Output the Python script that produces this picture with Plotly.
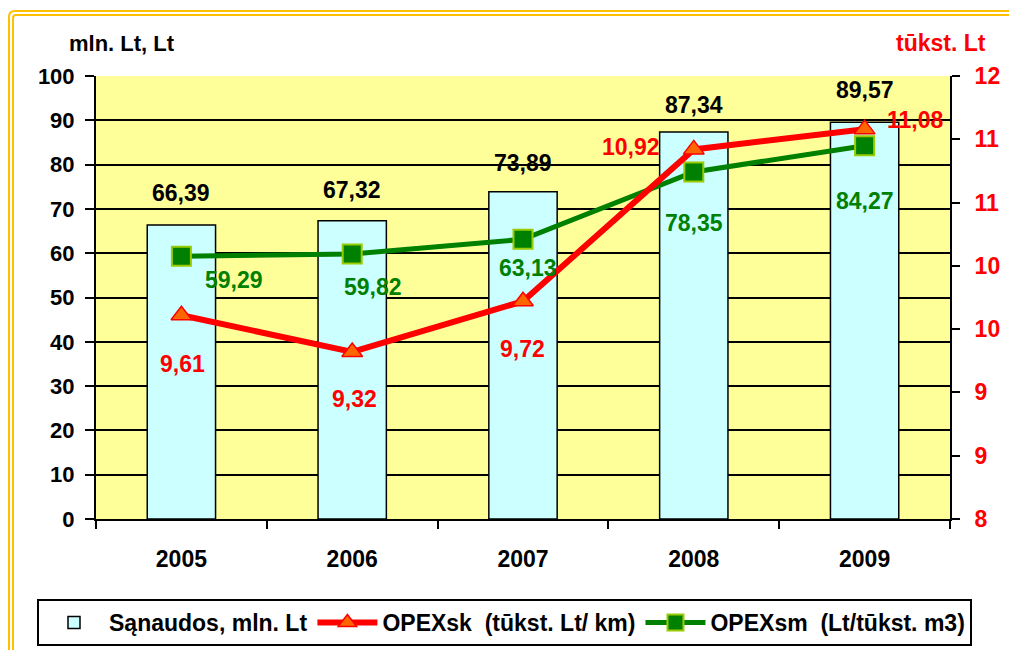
import plotly.graph_objects as go

# ---------------- data ----------------
years = ["2005", "2006", "2007", "2008", "2009"]
sanaudos = [66.39, 67.32, 73.89, 87.34, 89.57]        # mln. Lt (left axis)
opex_sk = [9.61, 9.32, 9.72, 10.92, 11.08]            # tūkst. Lt/km (right axis)
opex_sm = [59.29, 59.82, 63.13, 78.35, 84.27]         # Lt/tūkst. m3 (left axis)
left_ticks = [0, 10, 20, 30, 40, 50, 60, 70, 80, 90, 100]
right_tickvals = [8, 8.5, 9, 9.5, 10, 10.5, 11, 11.5]
right_ticktext = ["8", "9", "9", "10", "10", "11", "11", "12"]
names = ["Sąnaudos, mln. Lt", "OPEXsk\u00a0\u00a0(tūkst. Lt/ km)", "OPEXsm\u00a0\u00a0(Lt/tūkst. m3)"]

# ---------------- layout geometry ----------------
W, H = 1009, 650
L, R, T, B = 96, 950, 76, 519
FONT = "Arial, 'Liberation Sans', sans-serif"


def px(x):
    return (x - L) / (R - L)


def py(y):
    return (B - y) / (B - T)


def fmt(v):
    return f"{v:.2f}".replace(".", ",")


fig = go.Figure()

fig.add_trace(go.Bar(
    x=years, y=sanaudos, name=names[0], width=0.4,
    marker=dict(color="#CCFFFF", line=dict(color="black", width=1.5)),
    yaxis="y",
))
fig.add_trace(go.Scatter(
    x=years, y=opex_sk, name=names[1], mode="lines+markers",
    line=dict(color="#FF0000", width=6),
    marker=dict(symbol="triangle-up", size=18, color="#FF6600",
                line=dict(color="#FF0000", width=1.5)),
    yaxis="y2",
))
fig.add_trace(go.Scatter(
    x=years, y=opex_sm, name=names[2], mode="lines+markers",
    line=dict(color="#008000", width=5),
    marker=dict(symbol="square", size=19, color="#008000",
                line=dict(color="#99CC00", width=2)),
    yaxis="y",
))

# data labels (offsets in screen pixels: right, down)
bar_off = [(0, -32), (0, -31), (0, -29), (0, -27), (0, -32)]
sk_off = [(1, 49), (2, 47), (-1, 48), (-63, -2), (50, -9)]
sm_off = [(53, 24), (21, 33), (5, 29), (0, 51), (0, 55)]

ann = []
for i, yr in enumerate(years):
    ann.append(dict(x=i, y=sanaudos[i], xref="x", yref="y", text=fmt(sanaudos[i]),
                    showarrow=False, xanchor="center", yanchor="middle",
                    xshift=bar_off[i][0], yshift=-bar_off[i][1],
                    font=dict(family=FONT, size=23, color="black", weight="bold")))
    ann.append(dict(x=i, y=opex_sk[i], xref="x", yref="y2", text=fmt(opex_sk[i]),
                    showarrow=False, xanchor="center", yanchor="middle",
                    xshift=sk_off[i][0], yshift=-sk_off[i][1],
                    font=dict(family=FONT, size=23, color="#FF0000", weight="bold")))
    ann.append(dict(x=i, y=opex_sm[i], xref="x", yref="y", text=fmt(opex_sm[i]),
                    showarrow=False, xanchor="center", yanchor="middle",
                    xshift=sm_off[i][0], yshift=-sm_off[i][1],
                    font=dict(family=FONT, size=23, color="#008000", weight="bold")))

ann.append(dict(x=px(122), y=py(43), xref="paper", yref="paper", text="mln. Lt, Lt",
                xanchor="center", yanchor="middle", showarrow=False,
                font=dict(family=FONT, size=22, color="black", weight="bold")))
ann.append(dict(x=px(941), y=py(43), xref="paper", yref="paper", text="tūkst. Lt",
                xanchor="center", yanchor="middle", showarrow=False,
                font=dict(family=FONT, size=23, color="#FF0000", weight="bold")))

# outer double orange frame
shapes = []
for (x0, y0, r) in [(9, 11, 6), (13, 15, 3)]:
    path = (f"M {px(x0)},{py(H + 20)} L {px(x0)},{py(y0 + r)} "
            f"Q {px(x0)},{py(y0)} {px(x0 + r)},{py(y0)} L {px(W + 20)},{py(y0)}")
    shapes.append(dict(type="path", xref="paper", yref="paper", path=path,
                       line=dict(color="#FFC000", width=2), layer="below"))

fig.update_layout(
    width=W, height=H,
    margin=dict(l=L, r=W - R, t=T, b=H - B, autoexpand=False),
    paper_bgcolor="white", plot_bgcolor="#FFFF99",
    showlegend=True,
    font=dict(family=FONT, color="black"),
    xaxis=dict(type="category", range=[-0.5, 4.5], showline=True, linecolor="black",
               linewidth=2, ticks="outside", tickson="boundaries", ticklen=8,
               tickcolor="black", tickwidth=1.5, ticklabelstandoff=18,
               tickfont=dict(family=FONT, size=23, color="black", weight="bold"),
               showgrid=False, zeroline=False),
    yaxis=dict(range=[0, 100], tickvals=left_ticks, showline=True, linecolor="black",
               linewidth=2, ticks="outside", ticklen=9, tickcolor="black", tickwidth=1.5,
               showgrid=True, gridcolor="black", gridwidth=1.5, zeroline=False,
               ticklabelstandoff=6,
               tickfont=dict(family=FONT, size=22, color="black", weight="bold")),
    yaxis2=dict(range=[8, 11.5], overlaying="y", side="right", tickvals=right_tickvals,
                ticktext=right_ticktext, showline=True, linecolor="black", linewidth=2,
                ticks="outside", ticklen=8, tickcolor="black", tickwidth=1.5,
                showgrid=False, zeroline=False, ticklabelstandoff=10,
                tickfont=dict(family=FONT, size=23, color="#FF0000", weight="bold")),
    legend=dict(orientation="h", x=px(37), y=py(599), xanchor="left", yanchor="top",
                bgcolor="white", bordercolor="black", borderwidth=2,
                font=dict(family=FONT, size=23, color="black", weight="bold"),
                itemwidth=60, traceorder="normal"),
    annotations=ann,
    shapes=shapes,
)

fig.write_html("out.html", config={"displayModeBar": False},
               post_script="document.body.style.margin='0';document.body.style.overflow='hidden';")
